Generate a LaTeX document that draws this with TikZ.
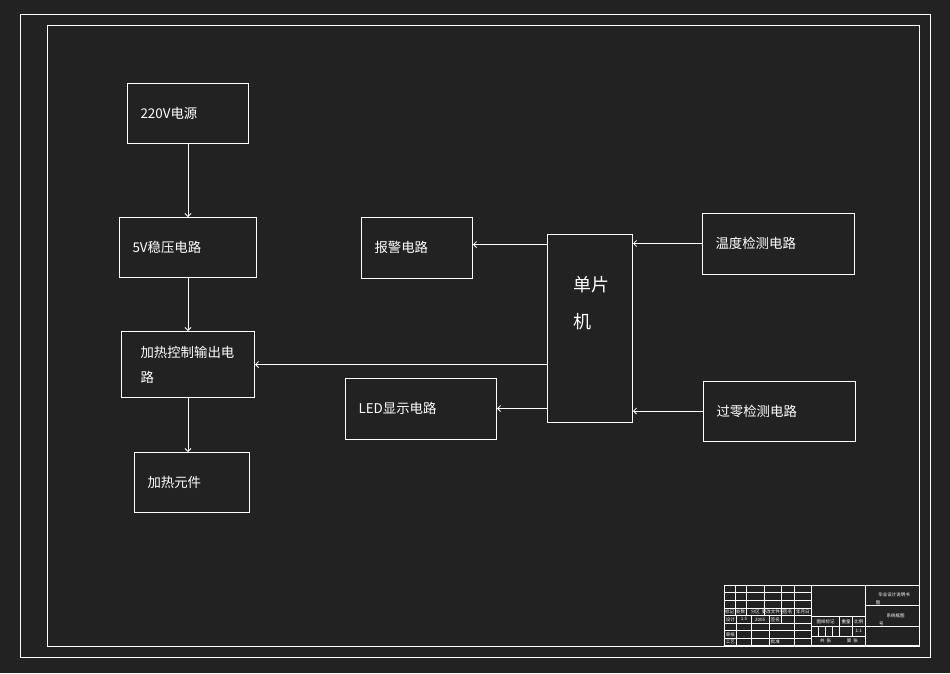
\documentclass[tikz,border=0pt]{standalone}
\usepackage{fontspec}
\setmainfont{Noto Sans CJK SC}
\usepackage{xcolor}
\usepackage{tikz}
\usetikzlibrary{arrows.meta,positioning}
\definecolor{cadbg}{RGB}{34,34,34}

\begin{document}
\begin{tikzpicture}[
  x=1pt, y=-1pt,
  node distance=50pt,
  box/.style={draw=white, line width=1pt, text=white, text width=#1,
              font=\fontsize{13.4}{25}\selectfont, align=left,
              inner xsep=13pt, minimum height=60pt},
  mcutext/.style={text=white, font=\fontsize{18}{37}\selectfont, align=left, inner sep=0pt},
  arr/.style={-{Straight Barb[length=3pt,width=6pt]}, draw=white, line width=0.8pt},
  frame/.style={draw=white, line width=1pt},
  tb/.style={draw=white, line width=0.7pt},
  tbtext/.style={text=white, font=\fontsize{4.5}{5}\selectfont, inner sep=0pt},
]
\fill[cadbg] (0,0) rectangle (950,673);
\useasboundingbox (0,0) rectangle (950,673);
\draw[frame] (20,14) rectangle (930,657);
\draw[frame] (47.5,25) rectangle (919,646);

\node[box=95pt] (psu) at (188,113.5) {220V电源};
\node[box=111pt, below=73pt of psu] (reg) {5V稳压电路};
\node[box=95pt, inner xsep=19pt, minimum height=66pt, below=53pt of reg] (heatctl) {加热控制输出电\\路};
\node[box=89pt, below=54pt of heatctl, xshift=4pt] (heater) {加热元件};
\node[box=85pt, minimum height=61pt, right=104pt of reg] (alarm) {报警电路};
\node[box=59pt, minimum height=188pt, right=74pt of alarm.north east, anchor=north west, yshift=-17pt] (mcu) {};
\node[mcutext] (mcul) at ([xshift=1pt, yshift=25pt]mcu.center) {单片\\机};
\node[box=125pt, minimum height=61pt, left=50pt of mcu.south west, anchor=south east, yshift=-17pt] (led) {LED显示电路};
\node[box=126pt, minimum height=61pt, right=69pt of mcu.north east, anchor=north west, yshift=21pt] (temp) {温度检测电路};
\node[box=126pt, below=106pt of temp, xshift=1pt] (zc) {过零检测电路};

\draw[arr] (psu) -- (psu |- reg.north);
\draw[arr] (reg) -- (reg |- heatctl.north);
\draw[arr] (heatctl) -- (heatctl |- heater.north);
\draw[arr] ([yshift=3pt]mcu.west |- alarm) -- ([yshift=3pt]alarm.east);
\draw[arr] (mcu.west |- heatctl) -- (heatctl);
\draw[arr] (mcu.west |- led) -- (led);
\draw[arr] (temp) -- (temp -| mcu.east);
\draw[arr] (zc) -- (zc -| mcu.east);

\draw[tb] (724,585) rectangle (919,645.5);
\draw[tb] (811.7,585) -- (811.7,645.5);
\draw[tb] (865.3,585) -- (865.3,645.5);
\foreach \y in {592.7,600.3,608.3,615.7,623,630.7,638}
  \draw[tb] (724,\y) -- (811.7,\y);
\foreach \x in {735,746.3,764.3,781.7,794}
  \draw[tb] (\x,585) -- (\x,615.7);
\foreach \x in {736.7,751.3,769,794}
  \draw[tb] (\x,615.7) -- (\x,645.5);
\draw[tb] (781.7,615.7) -- (781.7,623);
\foreach \y in {616.3,626.3,636.3}
  \draw[tb] (811.7,\y) -- (865.3,\y);
\foreach \x in {839.7,852.3}
  \draw[tb] (\x,616.3) -- (\x,636.3);
\foreach \x in {818.3,825,832}
  \draw[tb] (\x,626.3) -- (\x,636.3);
\foreach \y in {605.3,626.3}
  \draw[tb] (865.3,\y) -- (919,\y);

\foreach \x/\y/\t [count=\i] in {
  729.5/612/标记, 740.7/612/处数, 755.3/612/分区, 773/612/更改文件号,
  787.9/612/签名, 802.9/612/年月日,
  730.4/619.4/设计, 744/619.4/1.5, 760.2/619.4/2005, 775.4/619.4/签名,
  730.4/634.4/审核, 730.4/641.8/工艺, 775.4/641.8/批准,
  825.7/621.3/图样标记, 846/621.3/重量, 858.8/621.3/比例,
  858.8/631.3/1:1, 825.7/641/共\ \ 张, 852.3/641/第\ \ 张,
  894/595/毕业设计说明书, 878/603/图, 895.5/615.7/系统框图, 881.3/623.5/号}
  \node[tbtext] (tb\i) at (\x,\y) {\t};
\end{tikzpicture}
\end{document}
